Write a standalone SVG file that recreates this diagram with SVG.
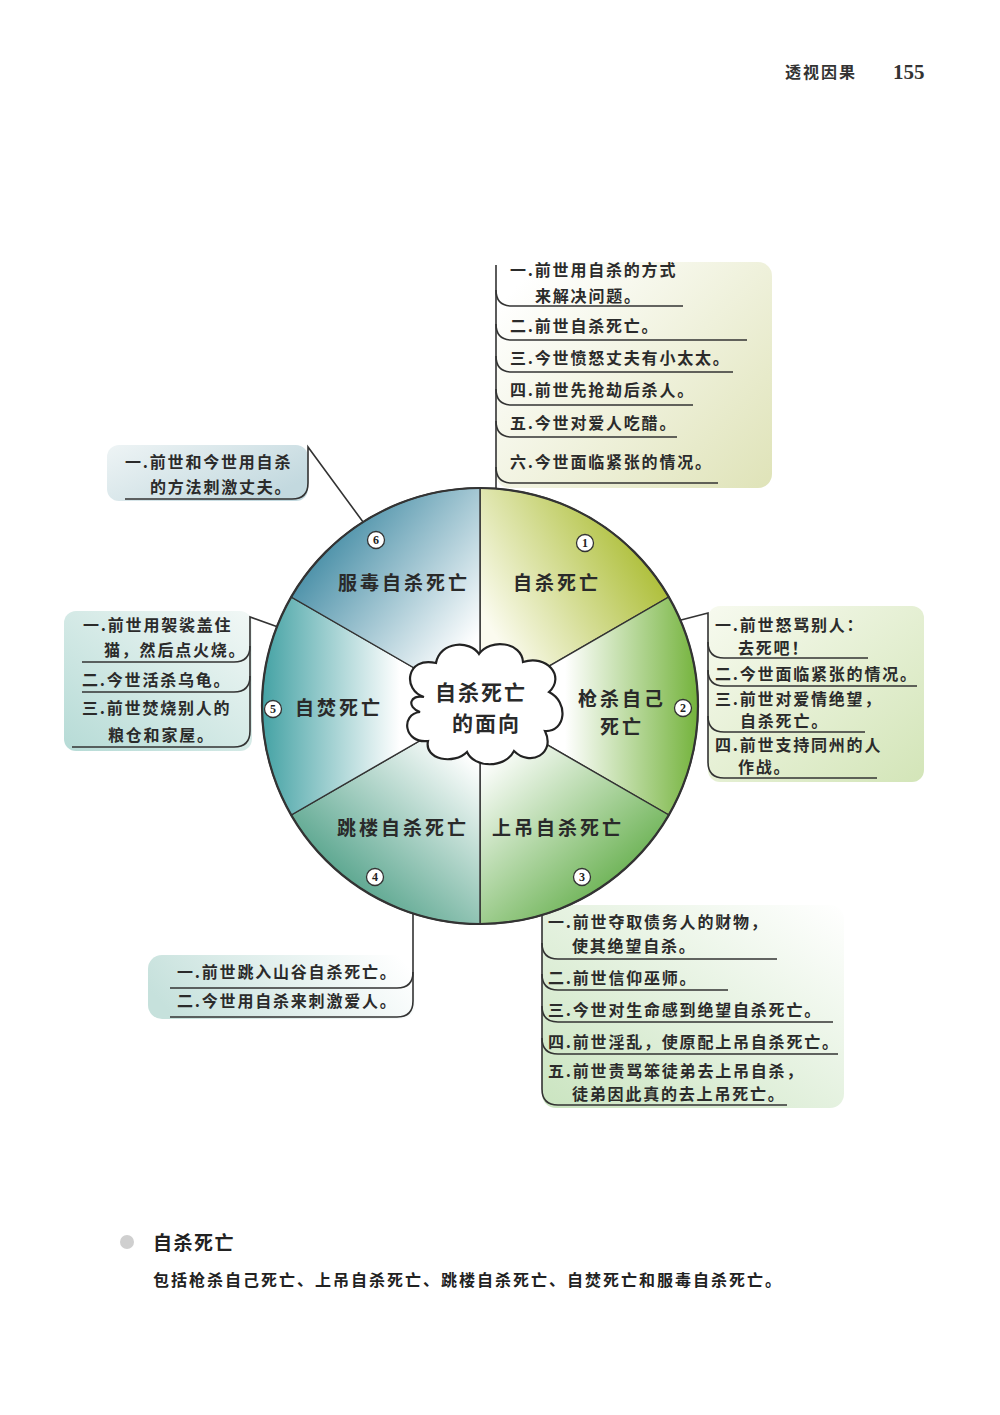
<svg xmlns="http://www.w3.org/2000/svg" width="1000" height="1415" viewBox="0 0 1000 1415">
<style>
.t{font-family:"Noto Sans CJK SC","Noto Sans",sans-serif;font-size:16px;font-weight:700;fill:#2b2b2b;letter-spacing:1.8px}
.seg{font-family:"Noto Sans CJK SC",sans-serif;font-size:19px;font-weight:700;fill:#2a2a2a;letter-spacing:3px}
.cl{font-family:"Noto Sans CJK SC",sans-serif;font-size:21px;font-weight:700;fill:#2a2a2a;letter-spacing:2px}
.num{font-family:"Liberation Serif",serif;font-size:12px;font-weight:700;fill:#222;text-anchor:middle}
.ln{fill:none;stroke:#333;stroke-width:1.6}
.sp{stroke:#333;stroke-width:1.4}
.nc{fill:#fff;stroke:#333;stroke-width:1.3}
</style>
<defs>
<linearGradient id="g1" gradientUnits="userSpaceOnUse" x1="520" y1="680" x2="680" y2="590"><stop offset="0" stop-color="#fbfbef"/><stop offset="1" stop-color="#a9bb2e"/></linearGradient>
<linearGradient id="g2" gradientUnits="userSpaceOnUse" x1="565" y1="706" x2="698" y2="706"><stop offset="0" stop-color="#ffffff"/><stop offset="1" stop-color="#74b33c"/></linearGradient>
<linearGradient id="g3" gradientUnits="userSpaceOnUse" x1="515" y1="735" x2="645" y2="885"><stop offset="0" stop-color="#ffffff"/><stop offset="1" stop-color="#5eab44"/></linearGradient>
<linearGradient id="g4" gradientUnits="userSpaceOnUse" x1="445" y1="735" x2="315" y2="885"><stop offset="0" stop-color="#ffffff"/><stop offset="1" stop-color="#489c82"/></linearGradient>
<linearGradient id="g5" gradientUnits="userSpaceOnUse" x1="400" y1="706" x2="262" y2="706"><stop offset="0" stop-color="#ffffff"/><stop offset="1" stop-color="#44a2a4"/></linearGradient>
<linearGradient id="g6" gradientUnits="userSpaceOnUse" x1="445" y1="680" x2="290" y2="560"><stop offset="0" stop-color="#ffffff"/><stop offset="1" stop-color="#3a86a0"/></linearGradient>
<linearGradient id="b1" x1="0" y1="0.2" x2="1" y2="1"><stop offset="0" stop-color="#ffffff"/><stop offset="1" stop-color="#dfe3b8"/></linearGradient>
<linearGradient id="b6" x1="0" y1="0" x2="1" y2="0.6"><stop offset="0" stop-color="#eef4f5"/><stop offset="1" stop-color="#c3d9df"/></linearGradient>
<linearGradient id="b5" x1="0" y1="1" x2="1" y2="0"><stop offset="0" stop-color="#b6dbd6"/><stop offset="1" stop-color="#f2f8f6"/></linearGradient>
<linearGradient id="b2" x1="0" y1="0" x2="1" y2="1"><stop offset="0" stop-color="#f7faef"/><stop offset="1" stop-color="#d3e5b8"/></linearGradient>
<linearGradient id="b4" x1="0" y1="0.5" x2="1" y2="0.3"><stop offset="0" stop-color="#c6e1dc"/><stop offset="1" stop-color="#ffffff"/></linearGradient>
<linearGradient id="b3" x1="0" y1="1" x2="1" y2="0"><stop offset="0" stop-color="#cae4c0"/><stop offset="1" stop-color="#ffffff"/></linearGradient>
</defs>
<rect width="1000" height="1415" fill="#ffffff"/>

<g id="header">
<text x="785" y="78" style="font-family:'Noto Sans CJK SC',sans-serif;font-size:16px;font-weight:700;fill:#333;letter-spacing:2px">透视因果</text>
<text x="893" y="79" style="font-family:'Liberation Serif',serif;font-size:21px;font-weight:700;fill:#333">155</text>
</g>

<g id="box-backgrounds">
<rect x="496" y="262" width="276" height="226" rx="14" fill="url(#b1)"/>
<rect x="107" y="445" width="201" height="56" rx="12" fill="url(#b6)"/>
<rect x="64" y="611" width="188" height="140" rx="12" fill="url(#b5)"/>
<rect x="708" y="606" width="216" height="176" rx="12" fill="url(#b2)"/>
<rect x="148" y="955" width="267" height="64" rx="14" fill="url(#b4)"/>
<rect x="542" y="905" width="302" height="203" rx="14" fill="url(#b3)"/>
</g>

<g id="connectors">
<path class="ln" d="M496,265 L496,489"/>
<path class="ln" d="M496,290 Q496,306 512,306 L683,306"/>
<path class="ln" d="M496,324 Q496,340 512,340 L747,340"/>
<path class="ln" d="M496,356 Q496,372 512,372 L733,372"/>
<path class="ln" d="M496,389 Q496,405 512,405 L693,405"/>
<path class="ln" d="M496,421 Q496,437 512,437 L677,437"/>
<path class="ln" d="M496,467 Q496,483 512,483 L718,483"/>

<path class="ln" d="M366,526 L308,447 L308,483 Q308,499 292,499 L125,499"/>

<path class="ln" d="M278,627 L250,617 L250,731 Q250,747 234,747 L72,747"/>
<path class="ln" d="M250,646 Q250,662 234,662 L82,662"/>
<path class="ln" d="M250,676 Q250,692 234,692 L82,692"/>

<path class="ln" d="M681,620 L708,613 L708,762 Q708,778 724,778 L877,778"/>
<path class="ln" d="M708,642 Q708,658 724,658 L868,658"/>
<path class="ln" d="M708,670 Q708,686 724,686 L917,686"/>
<path class="ln" d="M708,716 Q708,732 724,732 L865,732"/>

<path class="ln" d="M413,913 L413,1001 Q413,1017 397,1017 L170,1017"/>
<path class="ln" d="M413,972 Q413,988 397,988 L170,988"/>

<path class="ln" d="M542,915 L542,1089 Q542,1105 558,1105 L787,1105"/>
<path class="ln" d="M542,943 Q542,959 558,959 L777,959"/>
<path class="ln" d="M542,974 Q542,990 558,990 L728,990"/>
<path class="ln" d="M542,1006 Q542,1022 558,1022 L833,1022"/>
<path class="ln" d="M542,1038 Q542,1054 558,1054 L838,1054"/>
</g>

<g id="wheel">
<path class="sp" fill="url(#g1)" d="M480,706 L480,488 A218,218 0 0 1 668.8,597 Z"/>
<path class="sp" fill="url(#g2)" d="M480,706 L668.8,597 A218,218 0 0 1 668.8,815 Z"/>
<path class="sp" fill="url(#g3)" d="M480,706 L668.8,815 A218,218 0 0 1 480,924 Z"/>
<path class="sp" fill="url(#g4)" d="M480,706 L480,924 A218,218 0 0 1 291.2,815 Z"/>
<path class="sp" fill="url(#g5)" d="M480,706 L291.2,815 A218,218 0 0 1 291.2,597 Z"/>
<path class="sp" fill="url(#g6)" d="M480,706 L291.2,597 A218,218 0 0 1 480,488 Z"/>
<circle cx="480" cy="706" r="218" fill="none" stroke="#333" stroke-width="2.2"/>
</g>

<g id="seg1"><text class="seg" x="513" y="590">自杀死亡</text><circle class="nc" cx="585" cy="543" r="8.5"/><text class="num" x="585" y="547">1</text></g>
<g id="seg2"><text class="seg" x="578" y="706">枪杀自己</text><text class="seg" x="600" y="734">死亡</text><circle class="nc" cx="683" cy="708" r="8.5"/><text class="num" x="683" y="712">2</text></g>
<g id="seg3"><text class="seg" x="492" y="835">上吊自杀死亡</text><circle class="nc" cx="582" cy="877" r="8.5"/><text class="num" x="582" y="881">3</text></g>
<g id="seg4"><text class="seg" x="337" y="835">跳楼自杀死亡</text><circle class="nc" cx="375" cy="877" r="8.5"/><text class="num" x="375" y="881">4</text></g>
<g id="seg5"><text class="seg" x="295" y="715">自焚死亡</text><circle class="nc" cx="273" cy="709" r="8.5"/><text class="num" x="273" y="713">5</text></g>
<g id="seg6"><text class="seg" x="338" y="590">服毒自杀死亡</text><circle class="nc" cx="376" cy="540" r="8.5"/><text class="num" x="376" y="544">6</text></g>

<g id="center">
<path fill="#ffffff" stroke="#222" stroke-width="2.2" d="M424,697 C402,690 406,656 436,663 C440,641 470,640 479,654 C490,638 522,642 523,662 C546,654 566,676 549,692 C569,702 566,732 545,731 C556,754 530,767 514,751 C505,769 474,768 467,752 C454,765 424,760 428,741 C404,744 400,714 420,712 C406,707 410,694 424,697 Z"/>
<text class="cl" x="435" y="700">自杀死亡</text>
<text class="cl" x="452" y="731">的面向</text>
</g>

<g id="box1">
<text class="t" x="510" y="276">一.前世用自杀的方式</text>
<text class="t" x="535" y="302">来解决问题。</text>
<text class="t" x="510" y="332">二.前世自杀死亡。</text>
<text class="t" x="510" y="364">三.今世愤怒丈夫有小太太。</text>
<text class="t" x="510" y="396">四.前世先抢劫后杀人。</text>
<text class="t" x="510" y="429">五.今世对爱人吃醋。</text>
<text class="t" x="510" y="468">六.今世面临紧张的情况。</text>
</g>

<g id="box6">
<text class="t" x="125" y="468">一.前世和今世用自杀</text>
<text class="t" x="150" y="493">的方法刺激丈夫。</text>
</g>

<g id="box5">
<text class="t" x="83" y="631">一.前世用袈裟盖住</text>
<text class="t" x="104" y="656">猫，然后点火烧。</text>
<text class="t" x="82" y="686">二.今世活杀乌龟。</text>
<text class="t" x="82" y="714">三.前世焚烧别人的</text>
<text class="t" x="108" y="741">粮仓和家屋。</text>
</g>

<g id="box2">
<text class="t" x="715" y="631">一.前世怒骂别人：</text>
<text class="t" x="738" y="654">去死吧！</text>
<text class="t" x="715" y="680">二.今世面临紧张的情况。</text>
<text class="t" x="715" y="705">三.前世对爱情绝望，</text>
<text class="t" x="740" y="727">自杀死亡。</text>
<text class="t" x="715" y="751">四.前世支持同州的人</text>
<text class="t" x="738" y="773">作战。</text>
</g>

<g id="box4">
<text class="t" x="177" y="978">一.前世跳入山谷自杀死亡。</text>
<text class="t" x="177" y="1007">二.今世用自杀来刺激爱人。</text>
</g>

<g id="box3">
<text class="t" x="548" y="928">一.前世夺取债务人的财物，</text>
<text class="t" x="572" y="952">使其绝望自杀。</text>
<text class="t" x="548" y="984">二.前世信仰巫师。</text>
<text class="t" x="548" y="1016">三.今世对生命感到绝望自杀死亡。</text>
<text class="t" x="548" y="1048">四.前世淫乱，使原配上吊自杀死亡。</text>
<text class="t" x="548" y="1077">五.前世责骂笨徒弟去上吊自杀，</text>
<text class="t" x="572" y="1100">徒弟因此真的去上吊死亡。</text>
</g>

<g id="footer">
<circle cx="127" cy="1242" r="7" fill="#cfcfcf"/>
<text x="153" y="1250" style="font-family:'Noto Sans CJK SC',sans-serif;font-size:19px;font-weight:700;fill:#222;letter-spacing:1.5px">自杀死亡</text>
<text x="153" y="1286" style="font-family:'Noto Sans CJK SC',sans-serif;font-size:16px;font-weight:700;fill:#222;letter-spacing:2px">包括枪杀自己死亡、上吊自杀死亡、跳楼自杀死亡、自焚死亡和服毒自杀死亡。</text>
</g>
</svg>
